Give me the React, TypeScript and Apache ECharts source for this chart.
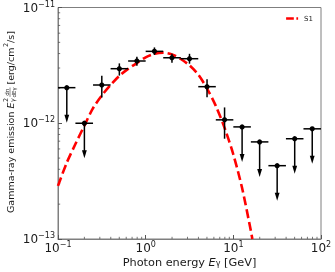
import React, { useEffect, useRef } from 'react';
import * as echarts from 'echarts';

// Photon energy bin centres and edges [GeV]
const energies = [0.126, 0.2, 0.316, 0.501, 0.794, 1.259, 1.995, 3.162, 5.012, 7.943, 12.59, 19.95, 31.62, 50.12, 79.43];
const binLow = [0.1, 0.158, 0.251, 0.398, 0.631, 1.0, 1.585, 2.512, 3.981, 6.31, 10.0, 15.85, 25.12, 39.81, 63.1];
const binHigh = [0.158, 0.251, 0.398, 0.631, 1.0, 1.585, 2.512, 3.981, 6.31, 10.0, 15.85, 25.12, 39.81, 63.1, 100];
// Flux [erg/cm^2/s]
const flux = [2.03e-12, 1.0e-12, 2.14e-12, 2.96e-12, 3.45e-12, 4.18e-12, 3.68e-12, 3.61e-12, 2.07e-12, 1.07e-12, 9.3e-13, 6.9e-13, 4.3e-13, 7.35e-13, 8.95e-13];
const fluxLow = [2.03e-12, 1.0e-12, 1.67e-12, 2.58e-12, 3.14e-12, 3.89e-12, 3.34e-12, 3.27e-12, 1.68e-12, 7.35e-13, 9.3e-13, 6.9e-13, 4.3e-13, 7.35e-13, 8.95e-13];
const fluxHigh = [2.03e-12, 1.0e-12, 2.57e-12, 3.29e-12, 3.76e-12, 4.52e-12, 3.98e-12, 3.98e-12, 2.4e-12, 1.37e-12, 9.3e-13, 6.9e-13, 4.3e-13, 7.35e-13, 8.95e-13];
const upperLimit = [1, 1, 0, 0, 0, 0, 0, 0, 0, 0, 1, 1, 1, 1, 1];

// Model curve S1
const curveE = [0.1, 0.126, 0.158, 0.2, 0.251, 0.316, 0.398, 0.501, 0.631, 0.794, 1.0, 1.259, 1.585, 1.995, 2.512, 3.162, 3.981, 5.012, 6.31, 7.943, 10.0, 12.59, 15.85, 16.48];
const curveF = [2.88e-13, 4.57e-13, 6.61e-13, 9.55e-13, 1.349e-12, 1.738e-12, 2.138e-12, 2.57e-12, 2.951e-12, 3.311e-12, 3.715e-12, 3.981e-12, 4.074e-12, 3.936e-12, 3.589e-12, 3.162e-12, 2.63e-12, 1.995e-12, 1.413e-12, 9.12e-13, 5.37e-13, 2.754e-13, 1.175e-13, 1.0e-13];

const xMinorTicks = [0.2, 0.3, 0.4, 0.5, 0.6, 0.7, 0.8, 0.9, 2, 3, 4, 5, 6, 7, 8, 9, 20, 30, 40, 50, 60, 70, 80, 90];
const yMinorTicks = [2e-13, 3e-13, 4e-13, 5e-13, 6e-13, 7e-13, 8e-13, 9e-13, 2e-12, 3e-12, 4e-12, 5e-12, 6e-12, 7e-12, 8e-12, 9e-12];

const FONT = 'DejaVu Sans';
const TXT = '#1a1a1a';
const SPINE = '#7f7f7f';

const powLabel = (v: number) => {
  const e = Math.round(Math.log10(v));
  return `{b|10}{s|${e < 0 ? '\u2212' : ''}${Math.abs(e)}}`;
};
const tickRich = {
  b: { fontSize: 12, lineHeight: 15, fontFamily: FONT, color: TXT },
  s: { fontSize: 8, lineHeight: 5, verticalAlign: 'top', fontFamily: FONT, color: TXT },
};

export default function App() {
  const ref = useRef<HTMLDivElement>(null);
  useEffect(() => {
    const chart = echarts.init(ref.current!, null, { renderer: 'svg' });
    const points = energies.map((e, i) => [e, flux[i], binLow[i], binHigh[i], fluxLow[i], fluxHigh[i], upperLimit[i]]);
    const blk = { stroke: '#000', lineWidth: 1.5 };
    const option: any = {
      animation: false,
      grid: { left: 58, right: 14, top: 7, bottom: 33, show: true, borderColor: SPINE, borderWidth: 1, backgroundColor: 'transparent' },
      legend: {
        data: [{ name: 'S1', icon: 'path://M0,0 L9,0 L9,3 L0,3 Z M12,0 L14,0 L14,3 L12,3 Z' }],
        right: 17,
        top: 10,
        itemWidth: 12,
        itemHeight: 3,
        itemGap: 4,
        textStyle: { fontSize: 7, fontFamily: FONT, color: TXT, padding: [0, 0, 0, 1] },
      },
      xAxis: {
        type: 'log',
        logBase: 10,
        min: 0.1,
        max: 100,
        axisLine: { show: true, lineStyle: { color: SPINE, width: 1 } },
        axisTick: { show: true, inside: true, length: 4, lineStyle: { color: '#555', width: 1 } },
        splitLine: { show: false },
        axisLabel: { formatter: powLabel, rich: tickRich, margin: 1 },
      },
      yAxis: {
        type: 'log',
        logBase: 10,
        min: 1e-13,
        max: 1e-11,
        axisLine: { show: true, lineStyle: { color: SPINE, width: 1 } },
        axisTick: { show: true, inside: true, length: 4, lineStyle: { color: '#555', width: 1 } },
        splitLine: { show: false },
        axisLabel: { formatter: powLabel, rich: tickRich, margin: 3 },
      },
      graphic: [
        {
          type: 'text',
          x: 189.5,
          y: 262,
          style: {
            text: 'Photon energy {i|E}{sb|γ} [GeV]',
            fontSize: 11.3,
            lineHeight: 11,
            fontFamily: FONT,
            fill: TXT,
            align: 'center',
            verticalAlign: 'middle',
            rich: {
              i: { fontSize: 11.3, lineHeight: 11, fontStyle: 'italic', fontFamily: FONT, fill: TXT },
              sb: { fontSize: 8, fontFamily: FONT, fill: TXT, lineHeight: 6, verticalAlign: 'bottom' },
            },
          },
        },
        {
          type: 'group',
          x: 10,
          y: 122.5,
          rotation: Math.PI / 2,
          children: [
            { type: 'text', x: -90.5, y: 0, style: { text: 'Gamma-ray emission', fontSize: 9.5, fontFamily: FONT, fill: TXT, align: 'left', verticalAlign: 'middle' } },
            { type: 'text', x: 13.9, y: 0, style: { text: 'E', fontSize: 9.5, fontStyle: 'italic', fontFamily: FONT, fill: TXT, align: 'left', verticalAlign: 'middle' } },
            { type: 'text', x: 20.6, y: -3.6, style: { text: '2', fontSize: 6.5, fontFamily: FONT, fill: TXT, align: 'left', verticalAlign: 'middle' } },
            { type: 'text', x: 20.2, y: 3.2, style: { text: 'γ', fontSize: 6.5, fontStyle: 'italic', fontFamily: FONT, fill: TXT, align: 'left', verticalAlign: 'middle' } },
            { type: 'text', x: 30.2, y: -3.4, style: { text: 'dn', fontSize: 5.5, fontFamily: FONT, fill: TXT, align: 'center', verticalAlign: 'middle' } },
            { type: 'line', shape: { x1: 25.6, y1: 0, x2: 35, y2: 0 }, style: { stroke: TXT, lineWidth: 0.5 } },
            { type: 'text', x: 30.2, y: 3.6, style: { text: 'dEγ', fontSize: 5.5, fontFamily: FONT, fill: TXT, align: 'center', verticalAlign: 'middle' } },
            { type: 'text', x: 38, y: 0, style: { text: '[erg/cm', fontSize: 9.5, fontFamily: FONT, fill: TXT, align: 'left', verticalAlign: 'middle' } },
            { type: 'text', x: 75.4, y: -3.6, style: { text: '2', fontSize: 6.5, fontFamily: FONT, fill: TXT, align: 'left', verticalAlign: 'middle' } },
            { type: 'text', x: 79.6, y: 0, style: { text: '/s]', fontSize: 9.5, fontFamily: FONT, fill: TXT, align: 'left', verticalAlign: 'middle' } },
          ],
        },
      ],
      series: [
        {
          name: 'xminor',
          type: 'custom',
          silent: true,
          data: xMinorTicks.map((v) => [v, 1e-13]),
          encode: { x: 0, y: 1 },
          renderItem: (params: any, api: any) => {
            const p = api.coord([api.value(0), api.value(1)]);
            return { type: 'line', shape: { x1: p[0], y1: p[1], x2: p[0], y2: p[1] - 2.2 }, style: { stroke: '#555', lineWidth: 0.8 } };
          },
        },
        {
          name: 'yminor',
          type: 'custom',
          silent: true,
          data: yMinorTicks.map((v) => [0.1, v]),
          encode: { x: 0, y: 1 },
          renderItem: (params: any, api: any) => {
            const p = api.coord([api.value(0), api.value(1)]);
            return { type: 'line', shape: { x1: p[0], y1: p[1], x2: p[0] + 2.2, y2: p[1] }, style: { stroke: '#555', lineWidth: 0.8 } };
          },
        },
        {
          name: 'S1',
          type: 'line',
          data: curveE.map((e, i) => [e, curveF[i]]),
          showSymbol: false,
          symbol: 'none',
          smooth: 0.3,
          clip: true,
          lineStyle: { color: '#ff0000', width: 2.6, type: [9, 4] },
          itemStyle: { color: '#ff0000' },
          z: 3,
        },
        {
          name: 'data',
          type: 'custom',
          data: points,
          encode: { x: 0, y: 1 },
          z: 4,
          renderItem: (params: any, api: any) => {
            const e = api.value(0);
            const f = api.value(1);
            const c = api.coord([e, f]);
            const l = api.coord([api.value(2), f]);
            const r = api.coord([api.value(3), f]);
            const children: any[] = [];
            children.push({ type: 'line', shape: { x1: l[0], y1: c[1], x2: r[0], y2: c[1] }, style: blk });
            if (api.value(6)) {
              const tip = c[1] + 35;
              children.push({ type: 'line', shape: { x1: c[0], y1: c[1], x2: c[0], y2: tip - 5 }, style: blk });
              children.push({ type: 'polygon', shape: { points: [[c[0] - 2.4, tip - 8], [c[0] + 2.4, tip - 8], [c[0], tip]] }, style: { fill: '#000' } });
            } else {
              const lo = api.coord([e, api.value(4)]);
              const hi = api.coord([e, api.value(5)]);
              children.push({ type: 'line', shape: { x1: c[0], y1: hi[1], x2: c[0], y2: lo[1] }, style: blk });
            }
            children.push({ type: 'circle', shape: { cx: c[0], cy: c[1], r: 2.6 }, style: { fill: '#000' } });
            return { type: 'group', children };
          },
        },
      ],
    };
    chart.setOption(option);
    return () => chart.dispose();
  }, []);
  return <div ref={ref} style={{ position: 'fixed', left: 0, top: 0, width: 335, height: 272 }} />;
}
